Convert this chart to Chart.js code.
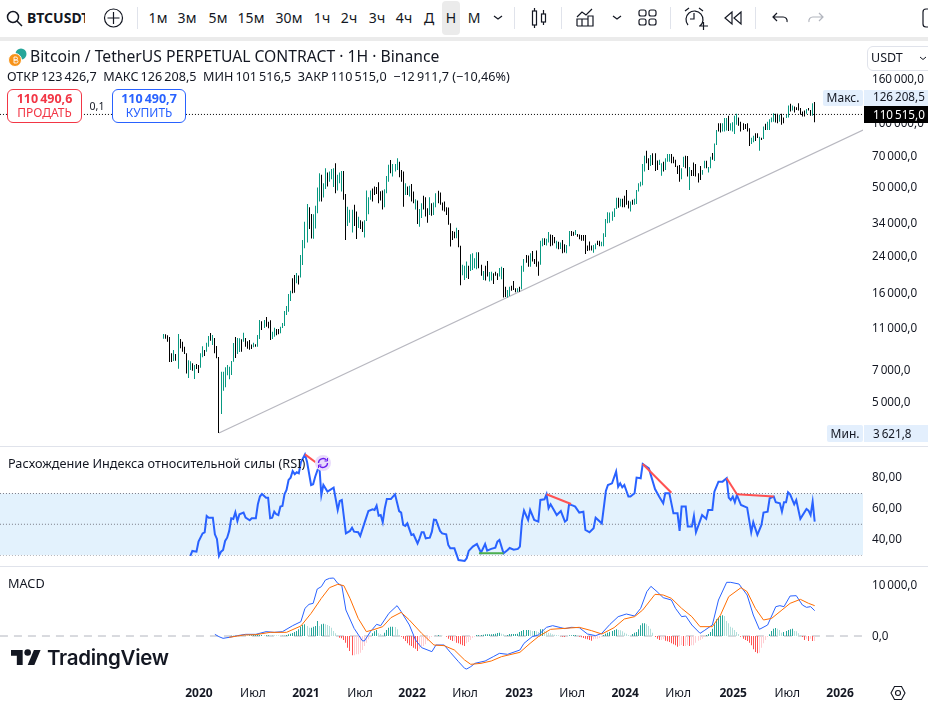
<!DOCTYPE html>
<html><head><meta charset="utf-8">
<script src="https://cdn.jsdelivr.net/npm/chart.js@4"></script>
<style>
html,body{margin:0;padding:0;background:#fff;width:928px;height:705px;overflow:hidden;font-family:"Noto Sans",sans-serif;color:#131722}
canvas{position:absolute;left:0}
.t{position:absolute;white-space:nowrap;line-height:1;transform:translateY(-50%)}
.c{transform:translate(-50%,-50%)}
.sep{position:absolute;top:7px;width:1px;height:22px;background:#e0e3eb}
svg{position:absolute;overflow:visible}
.box{position:absolute;box-sizing:border-box;background:#fff;border-radius:6px;border:1px solid}
</style></head><body>
<canvas id="priceC" width="928" height="405" style="top:41px"></canvas>
<canvas id="rsiC" width="928" height="119" style="top:447px"></canvas>
<canvas id="macdC" width="928" height="138" style="top:567px"></canvas>

<div style="position:absolute;left:0;top:37px;width:928px;height:4px;background:#ebebeb"></div>
<div style="position:absolute;left:0;top:446px;width:928px;height:1px;background:#e0e3eb"></div>
<div style="position:absolute;left:0;top:566px;width:928px;height:1px;background:#e0e3eb"></div>

<svg style="left:0;top:0" width="928" height="37" fill="none" stroke="#131722" stroke-width="1.2">
<circle cx="13" cy="17" r="5.5" stroke-width="1.5"/><path d="M17 21l5 5" stroke-width="1.5"/>
<circle cx="113.5" cy="18" r="9"/><path d="M113.5 12v12M107.5 18h12"/>
<path d="M494 16l4 3 4-3"/>
<rect x="532.5" y="11" width="4" height="14"/><path d="M534.500 8v3M534.500 25v3"/><rect x="541.5" y="14" width="4" height="8"/><path d="M543.500 10v4M543.500 22v3"/>
<path d="M577 26h16v-10h-5v10M582 26v-7h-5v7M582 19h6M577 17l5-5 4 3 6-6"/>
<path d="M613 16l4 3 4-3"/>
<rect x="639" y="10" width="7" height="6" rx="2"/><rect x="649" y="10" width="7" height="6" rx="2"/><rect x="639" y="19" width="7" height="6" rx="2"/><rect x="649" y="19" width="7" height="6" rx="2"/>
<path d="M700 26a8.5 8.5 0 1 0-12-1M694 13v6h-4M685 11l4-3M699 8l4 3M699 26h9M703.500 22v8"/>
<path d="M735 12l-7 6 7 6zM744 12l-7 6 7 6z" transform="translate(-3 0)"/>
<path d="M773 17h10a4 4 0 0 1 4 5M777 13l-4 4 4 4"/>
<path d="M823 17h-10a4 4 0 0 0-4 5M819 13l4 4-4 4" stroke="#b2b5be"/>
<rect x="923" y="9" width="14" height="18" rx="3"/>
</svg>
<div class="t" style="left:27px;top:18px;width:58px;overflow:hidden;font-weight:700;font-size:14px;height:20px;line-height:20px">BTCUSDT</div>
<div class="sep" style="left:137px"></div><div class="sep" style="left:514px"></div><div class="sep" style="left:561px"></div><div class="sep" style="left:670px"></div><div class="sep" style="left:755px"></div>
<div style="position:absolute;left:442px;top:1px;width:18px;height:34px;border-radius:4px;background:#ebebeb"></div>
<div id="tf"></div>

<svg style="left:8px;top:47px" width="22" height="20"><circle cx="13" cy="7" r="5.500" fill="#26a69a"/><circle cx="7" cy="13" r="6.500" fill="#f7931a" stroke="#fff" stroke-width="1"/><path d="M6 10v6M6 10h2a1.500 1.500 0 0 1 0 3H6h2.500a1.500 1.500 0 0 1 0 3H6" stroke="#fff" fill="none" stroke-width=".9"/></svg>
<div class="t" style="left:30px;top:57px;font-size:15.7px">Bitcoin / TetherUS PERPETUAL CONTRACT · 1Н · Binance</div>
<div class="t" style="left:7px;top:77px;font-size:12.6px">ОТКР&#8201;123&#8201;426,7 &nbsp;МАКС&#8201;126&#8201;208,5 &nbsp;МИН&#8201;101&#8201;516,5 &nbsp;ЗАКР&#8201;110&#8201;515,0 &nbsp;−12&#8201;911,7 (−10,46%)</div>

<div class="box" style="left:7px;top:89px;width:75px;height:34px;border-color:#f23645"></div>
<div class="t c" style="left:44.500px;top:98.500px;font-size:12.5px;font-weight:700;color:#f23645">110&#8201;490,6</div>
<div class="t c" style="left:44.500px;top:113px;font-size:12px;color:#f23645">ПРОДАТЬ</div>
<div class="t c" style="left:97px;top:106px;font-size:10.500px">0,1</div>
<div class="box" style="left:112px;top:89px;width:74px;height:34px;border-color:#2962ff"></div>
<div class="t c" style="left:149px;top:98.500px;font-size:12.5px;font-weight:700;color:#2962ff">110&#8201;490,7</div>
<div class="t c" style="left:149px;top:113px;font-size:12px;color:#2962ff">КУПИТЬ</div>

<div class="box" style="left:867px;top:46px;width:70px;height:25px;border-color:#e0e3eb"></div>
<div class="t" style="left:871px;top:58px;font-size:12.500px">USDT</div>
<svg style="left:919px;top:56px" width="8" height="5" fill="none" stroke="#131722"><path d="M1 1l3 2.500 3-2.500"/></svg>

<div style="position:absolute;left:823px;top:90px;width:40px;height:16px;background:#e3effd;border-radius:2px"></div>
<div class="t c" style="left:843px;top:98px;font-size:12px">Макс.</div>
<div style="position:absolute;left:864px;top:90px;width:64px;height:16px;background:#e3effd"></div>
<div class="t" style="left:873px;top:96.500px;font-size:11.7px">126&#8201;208,5</div>
<div style="position:absolute;left:864px;top:106px;width:64px;height:17px;background:#000"></div>
<div class="t" style="left:873px;top:114.500px;font-size:11.7px;color:#fff">110&#8201;515,0</div>
<div style="position:absolute;left:827px;top:425px;width:36px;height:17px;background:#e3effd;border-radius:2px"></div>
<div class="t c" style="left:845px;top:433.500px;font-size:12px">Мин.</div>
<div style="position:absolute;left:864px;top:425px;width:64px;height:17px;background:#e3effd"></div>
<div class="t" style="left:873px;top:433.500px;font-size:11.7px">3&#8201;621,8</div>

<div class="t" style="left:8px;top:463px;font-size:12.7px">Расхождение Индекса относительной силы (RSI)</div>
<svg style="left:315px;top:455px" width="16" height="16" fill="none"><circle cx="8" cy="8" r="8" fill="#e9dcfb"/><path d="M3.500 8a4.500 4.500 0 0 1 8-2.800M12.500 8a4.500 4.500 0 0 1-8 2.800" stroke="#6a1bef" stroke-width="1.300"/><path d="M12.500 3v3h-3M3.500 13v-3h3" stroke="#6a1bef" stroke-width="1"/></svg>
<div class="t" style="left:8px;top:583px;font-size:12.700px">MACD</div>

<svg style="left:11px;top:650px" width="30" height="15" viewBox="0 4 36 18" fill="#131722"><path d="M14 22H7V11H0V4h14v18zM28 22h-8l7.500-18h8L28 22z"/><circle cx="20" cy="7" r="4"/></svg>
<div class="t" style="left:47px;top:658px;font-size:20.500px;font-weight:600;font-family:Inter,sans-serif;letter-spacing:-.3px">TradingView</div>

<svg style="left:890px;top:685px" width="16" height="16" fill="none" stroke="#131722" stroke-width="1.100"><path d="M4.500 1.500h7L15 8l-3.500 6.500h-7L1 8z"/><circle cx="8" cy="8" r="2.500"/></svg>

<script>
const FONT = '"Noto Sans", sans-serif';
const TEXT = '#131722';
const timeframes = ['1м','3м','5м','15м','30м','1ч','2ч','3ч','4ч','Д','Н','М'];
const timeframeX = [158,187,218,251,289,322,349,377,404,429,451,474];

const barHighs = [
10480,10450,10330,10150,8520,8830,8460,10480,9930,9650,
9145,8520,7900,7820,7650,7515,7600,7515,8520,9180,
8830,9550,10260,10590,10370,10040,9210,8190,6990,6990,
7330,7515,7380,7845,9516,10150,10040,10010,9900,10630,
10040,9690,9830,9350,9550,9380,10370,12180,12010,12180,
12580,11960,12140,10740,11210,11060,11060,11340,11800,13420,
14150,16100,16650,19070,19740,20170,19620,24470,28740,34950,
42300,40800,38000,37900,41500,50400,58800,57800,52800,62100,
59200,59900,61500,62100,65500,57800,59200,60200,60200,47100,
41000,39700,39700,41900,39000,36900,35500,35000,35500,48800,
45500,48800,49900,51000,50700,53400,48500,48800,49500,57100,
64400,67800,65000,65000,69100,66600,60800,59900,52800,51000,
51400,52400,48300,44500,43900,40100,42600,46200,45500,40400,
45500,42600,43000,47500,48700,47800,43000,43400,40800,40700,
34400,31600,31400,32800,32000,27000,22000,21800,22800,21800,
24650,24900,23620,25200,25200,22000,20600,21800,22950,20400,
20450,20100,20450,20100,21300,21550,21300,17400,16800,17400,
17600,18500,17100,17100,17400,21800,23400,24450,24300,24900,
25550,23400,25650,22800,28500,29300,29300,29100,31300,30500,
30300,29650,28500,28200,27950,28750,27450,27250,31650,31650,
31400,32000,30650,30500,30300,30300,30300,27050,28250,27050,
27250,27700,28500,28500,28200,30900,35950,38700,38550,39000,
40400,45200,45200,44700,44700,46200,49100,43800,43400,44200,
44700,49100,52800,53700,65000,71000,74800,69100,71600,72900,
72900,67400,67900,65500,66500,69100,72300,72300,72300,70200,
67900,63800,64300,62100,70200,71000,70800,62800,60800,66000,
65000,58800,63600,60800,67300,67300,62900,70200,73000,81000,
93600,100600,100600,100600,106300,106300,108900,100600,101700,108900,
111200,106800,102300,100600,99600,100500,95200,86000,88000,90300,
90300,87000,86000,97000,99900,102300,105000,107000,112000,111200,
111200,110000,111200,107000,110000,121500,123900,121500,120300,119500,
124700,118300,114000,115200,117200,118300,116000,124500,126208.5];
const barLows = [
9965,9960,9650,7760,7760,7845,7870,7220,8990,8670,
8460,6850,6530,7120,7070,6470,7200,6900,7300,8160,
8280,8670,9145,9750,9310,8520,8080,3621.8,4440,5700,
5910,6730,6450,6750,7790,8100,8460,8640,8670,9650,
9145,8950,8860,8920,9090,9145,9145,9930,10940,11180,
11340,11140,9830,9930,10180,10330,10450,10560,11180,11420,
12850,13320,14930,16220,16330,18060,17800,19190,21970,26300,
27930,32360,29160,29100,32500,38300,43400,43400,45300,49600,
51000,53700,55200,50700,47500,48800,52800,48300,44200,28740,
33400,34600,31100,33400,29050,32700,32300,31300,29500,35200,
37900,44200,43400,46600,47100,42600,43900,39800,40800,47500,
53700,58800,56800,59900,60800,56300,53700,41000,46600,46600,
45800,43400,42600,39800,34100,33100,36400,39800,37000,34600,
37600,37300,37600,40800,42600,41900,39400,39000,37600,33800,
26800,28740,29300,29300,26600,17700,19700,18700,19100,18900,
20610,20840,21215,21000,21200,19550,18700,18600,19400,18400,
18600,17900,19550,18700,19400,18850,15500,15600,15500,15750,
16650,16800,16400,16450,16500,16950,20450,22500,21550,21550,
22800,22200,21550,19550,22000,26900,27250,27050,27950,26900,
27050,27750,26250,26000,26100,24950,25100,24950,26900,29950,
30050,30300,29750,28950,28500,28500,24750,25550,25650,25650,
25050,26000,27200,26900,26900,26900,29700,34400,34600,35300,
36800,40100,40600,41100,40800,40800,41900,40300,39000,41900,
41900,42300,48300,51000,51700,59900,65500,60800,63600,64300,
60300,60800,64300,57300,59900,60800,66500,66500,65500,65500,
62900,58400,53700,55200,62900,62100,56800,49100,57100,57100,
56800,53200,54700,57800,62100,62100,59200,62100,67900,67000,
79700,91900,91000,91900,91900,92900,92600,92900,91900,89700,
99000,97900,91900,93600,94500,91900,78800,80500,82000,83000,
85800,74800,83900,85000,93600,93600,93600,101700,102300,101300,
100600,102300,99000,100600,106300,107000,114000,115200,112800,116000,
115200,110000,108100,108100,111200,115200,108900,108900,101516.5];
const barUp = [
1,0,0,0,0,1,0,1,0,0, 0,0,1,1,0,1,0,0,1,1, 0,1,1,0,1,0,0,0,1,1, 1,1,1,1,1,0,1,1,0,1,
0,0,0,0,1,0,1,1,0,1, 0,0,0,1,1,0,0,1,1,1, 1,1,1,0,0,1,0,1,1,1, 1,0,0,1,1,1,1,0,1,1,
0,1,1,1,0,1,1,1,0,0, 1,1,1,0,0,1,0,0,1,1, 1,1,0,0,0,0,0,0,1,1, 1,0,1,1,1,0,0,0,1,0,
1,0,0,1,0,1,1,0,0,0, 1,0,1,1,0,0,0,0,0,0, 0,0,0,1,0,0,1,1,1,0, 1,1,1,1,0,0,1,0,0,1,
1,0,0,0,1,1,0,0,1,1, 0,0,0,1,0,1,1,0,0,1, 0,0,0,0,1,1,0,1,1,0, 0,0,1,0,1,0,0,1,1,0,
0,1,0,0,0,0,0,0,0,0, 1,1,0,0,1,1,1,1,1,1, 1,1,0,1,0,0,0,0,1,0, 1,1,1,1,1,1,0,0,1,0,
0,0,1,1,0,1,1,1,0,0, 0,0,0,1,1,0,0,1,0,0, 0,0,0,1,1,0,1,1,0,1, 1,0,0,1,1,1,0,1,1,1,
1,0,0,0,0,0,0,1,1,0, 0,1,0,1,0,1,1,1,1,0, 0,1,0,0,1,1,0,1,0,0, 0,0,0,0,1,0,0,1,0];

const priceTicks = [160000,100000,70000,50000,34000,24000,16000,11000,7000,5000];
const lastClose = 110515;
const trendBars = [27,341.6];
const trendPrices = [3621.8,93500];

const rsiBars = [13,14,16,17,19,20,21,22,24,25,26,27,28,29,30,31,32,33,34,35,36,37,39,40,42,43,45,46,47,48,50,51,52,53,54,55,56,57,58,59,60,61,62,63,64,65,66,67,69,70,72,73,74,76,77,78,80,83,85,86,87,89,91,92,93,95,96,98,100,102,103,104,105,106,107,108,109,111,112,113,115,116,117,118,119,121,122,124,125,126,127,128,130,131,132,133,135,136,138,139,140,142,144,147,
148,149,151,153,155,157,158,160,162,163,164,166,168,169,171,173,174,175,176,178,179,181,183,184,186,187,188,189,192,194,196,197,198,200,201,203,205,206,208,210,211,214,216,217,219,221,222,223,224,225,227,228,230,231,233,234,237,240,242,244,245,247,249,251,252,253,255,256,258,259,260,263,265,266,268,269,271,273,275,276,277,278,279,280,282,285,287,288,290,292,293,295,296,298,299,301,302,303,304,305,306,308,309,311,314,315,316,317,318];
const rsiValues = [29.4,32.7,32.2,38.7,44.1,44.8,55.4,54.3,54.3,43.5,40.5,29.4,32.2,33.3,39.2,41.3,45.7,53.9,53.5,57.8,52.1,56.5,57.6,54.3,52.6,53.9,53.9,63,68,69.7,67.3,67.3,53.9,54.3,58.2,56.5,56,61.5,61.9,69.5,72.3,78.8,80.3,84.6,82.5,83.8,83.1,90.2,95.4,90.7,75.5,76,80.9,88.5,69,75.5,71.2,73.8,59.3,65.1,65.8,44.1,45.7,47.8,45.2,44.8,42.4,50.6,58.6,59.7,59.3,62.1,55.6,56,51.3,60.4,66.5,66.5,68,69.5,58.6,57.6,49.6,48.9,50.6,43.1,43.5,37.6,40.9,44.8,44.8,40.9,41.3,45.2,53,52.8,45.7,44.1,43.5,36.6,34.4,34.4,26.8,26.2,
27.9,32.7,35.5,37.2,31.6,37.2,32.9,34,34.8,38.7,39.8,31.2,33.3,34.6,33.5,34,35.5,52.1,58.9,52.8,59.3,52.8,51.7,65.8,66.2,69.5,60.4,63,56,58.6,51.7,52.8,63,62.1,61.5,57.6,58.2,46.3,44.8,47.4,54.3,50.6,71.6,75.5,76.6,84.2,74.4,76.6,74,75.5,68,68,70.1,80.3,79.9,89.2,86.3,72.9,68,63.6,70.1,70.1,57.1,57.1,45.7,61.5,61.5,48.5,48.5,55.4,44.8,56,53.5,59.3,59.3,71.2,77.7,77.7,79.9,67.3,65.8,68,64.3,69,62.5,60.8,44.8,51.3,43.1,49.6,57.6,58.2,66.9,68,64.3,63.6,58.2,64.3,64.3,70.8,69.5,63,65.8,53.5,59.9,58.9,56,64.7,51.7];
const rsiTicks = [80,60,40];
const rsiLevels = [70,50,30];
const rsiEnds = [-80,341.6];
const divergenceRed = [[69,95.4,76,88.5],[187,69.5,199,63.2],[234,89.2,248,70.5],[275,79.9,280,69.5],[280,69.5,298,68]];
const divergenceGreen = [[154,31.2,166,31.2]];

const macdBars = [25,27,29,32,36,40,45,50,54,58,63,67,69,71,73,75,77,79,81,83,85,87,89,93,97,98,101,104,106,110,114,116,120,123,126,131,133,137,140,144,147,148,150,152,157,161,164,168,174,176,180,183,187,190,194,196,199,203,207,211,214,218,222,226,230,233,236,238,241,244,248,250,253,255,258,262,264,268,271,275,277,281,285,288,291,295,299,301,303,306,309,312,314,316,318];
const macdValues = [325,-130,-455,-260,65,325,325,845,715,845,2015,2795,5395,6175,6370,9165,9620,10920,11245,11310,10270,9815,5070,1495,-910,-975,845,2275,2015,4420,5915,4745,2145,-780,-2275,-3055,-1755,-1755,-3185,-5005,-6305,-6435,-5980,-5330,-4875,-4030,-3380,-3575,-2730,-1430,-130,195,1690,2015,1625,1430,1690,1625,390,65,520,2275,3770,4290,3900,5395,8645,9685,8645,7475,7020,5395,3770,3900,2145,520,1040,2145,7020,10465,10465,10140,7995,4095,1300,2145,5720,5915,5720,7800,7865,6045,5590,5720,4940];
const signalBars = [32,39,45,52,60,67,72,77,81,85,88,91,95,99,102,107,111,116,120,126,132,137,142,147,150,155,160,165,174,179,183,189,196,203,209,214,220,225,230,234,240,244,248,253,258,262,268,272,276,282,285,289,293,297,302,306,311,315,318];
const signalValues = [-260,195,260,715,715,1950,4420,7345,9425,10075,9815,7345,3445,845,1170,1820,3575,4615,3120,520,-1755,-1885,-2730,-4680,-5525,-5330,-4875,-4030,-3185,-1430,-130,1300,1495,1690,1040,390,1625,3315,3770,5070,8125,7995,7345,5395,3770,1820,1820,4095,7670,9425,8645,5395,3120,3445,5070,6370,7150,6370,5915];
const histStartBar = 33;
const histValues = [
65,65,65,65,65,65,65,
65,65,130,130,195,195,195,195,195,130,
130,130,65,65,65,65,65,0,65,65,
195,325,455,585,780,975,1300,1820,2145,2275,
1950,1625,1625,1820,1950,2925,1950,2275,2405,2275,
2145,1950,1625,975,520,130,-325,-455,-780,-1300,
-2275,-2925,-3770,-3770,-3575,-3575,-3250,-2730,-1950,-1300,
-650,-195,520,910,1170,520,390,195,650,1170,
1625,1820,1820,1755,1300,195,-130,-520,-975,-1430,
-1820,-1950,-2275,-2470,-2925,-2470,-2080,-1950,-1625,-975,
-520,-195,0,65,195,130,65,0,-130,-520,
-780,-975,-975,-1300,-1430,-1625,-1820,-1950,-1430,-1170,
-780,-390,-130,195,195,195,260,325,325,325,
325,390,455,585,650,455,325,195,195,390,
390,390,390,455,780,975,1170,1170,1170,1105,
975,975,910,780,1300,1300,975,910,650,520,
325,260,195,130,-65,-130,-195,0,130,130,
195,195,65,-130,-260,-390,-520,-650,-780,-910,
-650,-520,-520,-390,-130,195,455,650,780,975,
1170,1300,1170,1105,910,650,455,195,130,390,
650,780,1300,2080,2470,2470,2275,1950,1430,650,
-195,-520,-780,-780,-650,-910,-1040,-1170,-1430,-1625,
-1820,-2080,-1950,-1755,-1950,-1950,-1820,-1950,-1820,-1820,
-1300,-910,-780,-520,-195,195,390,780,1430,2275,
3250,3575,3900,4030,3900,2925,2470,1820,1625,1170,
780,390,-130,-520,-780,-975,-1300,-1820,-2600,-3120,
-3380,-3250,-2275,-1430,-780,-195,325,975,1430,1560,
1430,1170,650,780,975,1170,1300,1430,975,910,
520,130,-195,-780,-520,-975,-520,-975,-975];
const macdTicks = [10000,0];
const axisBars = [17.2,43.6,69.5,95.9,121.3,147.2,173.6,199.5,225.4,251.3,278.2,304.6,330.4];
const axisLabels = ['2020','Июл','2021','Июл','2022','Июл','2023','Июл','2024','Июл','2025','Июл','2026'];

/* toolbar text */
const tf = document.getElementById('tf');
timeframes.forEach((s,i)=>{const d=document.createElement('div');d.className='t c';d.textContent=s;
  d.style.cssText=`left:${timeframeX[i]}px;top:18px;font-size:14px`;tf.appendChild(d);});

const fmt = (v,dec)=>{const neg=v<0;const s=Math.abs(v).toFixed(dec).split('.');
  return (neg?'−':'')+s[0].replace(/\B(?=(\d{3})+$)/g,'\u2009')+','+s[1];};
const xMin=-79.97, xMax=341.6;
const xScale = {type:'linear',min:xMin,max:xMax,display:false,offset:false};
const noPad = s=>{s.paddingTop=0;s.paddingBottom=0;s.paddingLeft=0;s.paddingRight=0;};
const yAxis = (extra,ticks,dec,off)=>Object.assign({position:'right',
  grid:{display:false,drawTicks:false},border:{display:false},
  afterFit(s){s.width=65;noPad(s);},
  afterBuildTicks(s){s.ticks=ticks.map(v=>({value:v}));},
  ticks:{autoSkip:false,color:TEXT,font:{family:FONT,size:11.7},padding:9,crossAlign:'near',labelOffset:off,
    callback:v=>fmt(v,dec)}},extra);
/* snaps thin bars onto whole device pixels so they stay crisp */
const snapBars = {id:'snapBars',afterDatasetsUpdate(c){c.data.datasets.forEach((d,i)=>{
  if(d.type!=='bar')return;c.getDatasetMeta(i).data.forEach(el=>{el.x=Math.floor(el.x)+.5;});});}};
const base = {responsive:false,animation:false,devicePixelRatio:1,layout:{padding:0},
  plugins:{legend:{display:false},tooltip:{enabled:false}},events:[]};
const line=(data,color,width,dash,extra)=>Object.assign({type:'line',data,borderColor:color,borderWidth:width,
  borderDash:dash||[],pointRadius:0,tension:0,fill:false},extra||{});
const xy=(xs,ys)=>xs.map((x,i)=>({x,y:ys[i]}));

new Chart(document.getElementById('priceC'),{type:'bar',plugins:[snapBars],
  data:{datasets:[
    {type:'bar',data:barHighs.map((h,i)=>({x:i,y:[barLows[i],h]})),inflateAmount:0,
     backgroundColor:barUp.map(u=>u?'#089981':'#000000'),barThickness:1,grouped:false,order:1},
    line(xy(trendBars,trendPrices),'#b8b8c0',1.2,[],{order:2}),
    line(xy(rsiEnds,[lastClose,lastClose]),'#000000',1,[1,2],{order:0})
  ]},
  options:Object.assign({},base,{scales:{x:xScale,
    y:yAxis({type:'logarithmic',min:3150.4,max:243000,bounds:'data'},priceTicks,1,-0.5)}})
});

const rsiSets=[
  line(xy(rsiEnds,[rsiLevels[0],rsiLevels[0]]),'#787b86',1,[1,2],{fill:{target:'+1'},backgroundColor:'#e3f2fd',order:5}),
  line(xy(rsiEnds,[rsiLevels[2],rsiLevels[2]]),'#787b86',1,[1,2],{order:5}),
  line(xy(rsiEnds,[rsiLevels[1],rsiLevels[1]]),'#787b86',1,[1,2],{order:4}),
  line(xy(rsiBars,rsiValues),'#2962ff',2,[],{order:2})
];
divergenceRed.forEach(d=>rsiSets.push(line([{x:d[0],y:d[1]},{x:d[2],y:d[3]}],'#ff5252',2,[],{order:1})));
divergenceGreen.forEach(d=>rsiSets.push(line([{x:d[0],y:d[1]},{x:d[2],y:d[3]}],'#4caf50',2,[],{order:1})));
new Chart(document.getElementById('rsiC'),{type:'line',data:{datasets:rsiSets},
  options:Object.assign({},base,{scales:{x:xScale,y:yAxis({type:'linear',min:22.9,max:100.2,bounds:'data'},rsiTicks,2,-0.5)}})
});

const histColor=histValues.map((v,i)=>{const p=i?histValues[i-1]:0;
  return v>=0?(v>=p?'#26a69a':'#b2dfdb'):(v<p?'#ff5252':'#ffcdd2');});
new Chart(document.getElementById('macdC'),{type:'bar',plugins:[snapBars],
  data:{datasets:[
    {type:'bar',data:histValues.map((v,i)=>({x:i+histStartBar,y:v})),inflateAmount:0,backgroundColor:histColor,barThickness:1,grouped:false,order:3},
    line(xy(rsiEnds,[0,0]),'#b2b5be',1,[8,6],{order:4}),
    line(xy(macdBars,macdValues),'#2962ff',1,[],{order:2}),
    line(xy(signalBars,signalValues),'#ff6d00',1,[],{order:1})
  ]},
  options:Object.assign({},base,{scales:{
    x:{type:'linear',min:xMin,max:xMax,offset:false,grid:{display:false,drawTicks:false},border:{display:false},
       afterFit(s){s.height=25;noPad(s);},
       afterBuildTicks(s){s.ticks=axisBars.map(v=>({value:v}));},
       ticks:{autoSkip:false,maxRotation:0,color:TEXT,padding:6,
         font:c=>({family:FONT,size:12,weight:/^\d/.test(axisLabels[c.index]||'')?'bold':'normal'}),
         callback:(v,i)=>axisLabels[i]}},
    y:yAxis({type:'linear',min:-8580,max:13455,bounds:'data'},macdTicks,1,0.5)}})
});
</script>
</body></html>
